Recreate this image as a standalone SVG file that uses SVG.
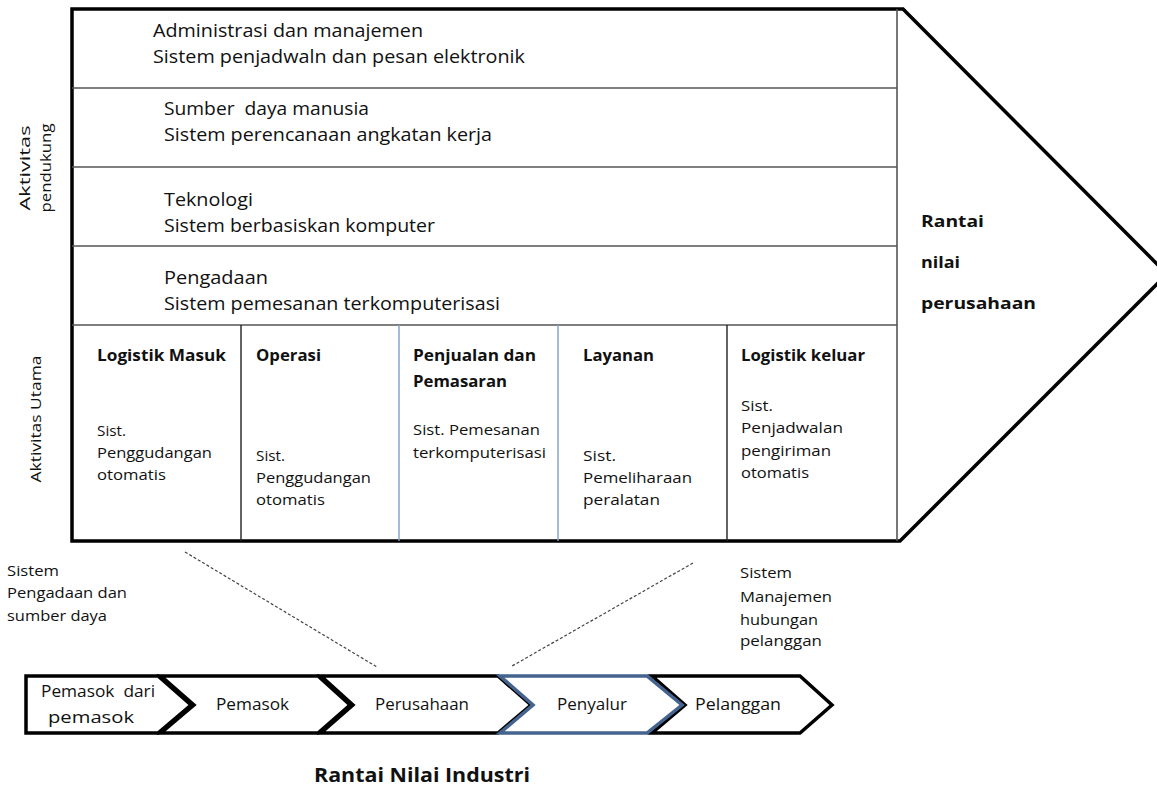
<svg xmlns="http://www.w3.org/2000/svg" width="1157" height="786" viewBox="0 0 1157 786">
<style>
.t{font-family:"Open Sans","Noto Sans","Liberation Sans",sans-serif;fill:#111}
.pre{white-space:pre}
.r{font-size:18px}
.s{font-size:15px}
.b{font-size:16px;font-weight:bold}
.c{font-size:16px}
.sep{stroke:#555;stroke-width:1.6;fill:none}
.dash{stroke:#444;stroke-width:1.2;stroke-dasharray:3 2;fill:none}
.chev{fill:#fff;stroke:#000;stroke-width:3.5;stroke-linejoin:miter}
.chev.blue{stroke:#44648f}
</style>
<rect width="1157" height="786" fill="#fff"/>
<g id="frame">
<polygon points="72,9 903,9 1167,274 900,541 72,541" fill="#fff" stroke="#000" stroke-width="3.5"/>
<line class="sep" x1="897" y1="9" x2="897" y2="541"/>
<line class="sep" x1="72" y1="88" x2="897" y2="88"/>
<line class="sep" x1="72" y1="167" x2="897" y2="167"/>
<line class="sep" x1="72" y1="246" x2="897" y2="246"/>
<line class="sep" x1="72" y1="325" x2="897" y2="325"/>
<line x1="241" y1="325" x2="241" y2="541" stroke="#222" stroke-width="1.4"/>
<line x1="399" y1="325" x2="399" y2="541" stroke="#7f9fc8" stroke-width="1.4"/>
<line x1="558" y1="325" x2="558" y2="541" stroke="#7f9fc8" stroke-width="1.4"/>
<line x1="727" y1="325" x2="727" y2="541" stroke="#222" stroke-width="1.4"/>
</g>
<g id="labels-side">
<text class="t s" transform="translate(30,168) rotate(-90)" text-anchor="middle" textLength="85" lengthAdjust="spacingAndGlyphs">Aktivitas</text>
<text class="t s" transform="translate(51,168) rotate(-90)" text-anchor="middle" textLength="89" lengthAdjust="spacingAndGlyphs">pendukung</text>
<text class="t s" transform="translate(41,419) rotate(-90)" text-anchor="middle" textLength="127" lengthAdjust="spacingAndGlyphs">Aktivitas Utama</text>
</g>
<g id="row-admin">
<text class="t r" x="153" y="37" textLength="270" lengthAdjust="spacingAndGlyphs">Administrasi dan manajemen</text>
<text class="t r" x="153" y="63" textLength="372" lengthAdjust="spacingAndGlyphs">Sistem penjadwaln dan pesan elektronik</text>
</g>
<g id="row-sdm">
<text class="t r pre" x="164" y="115" textLength="205" lengthAdjust="spacingAndGlyphs">Sumber  daya manusia</text>
<text class="t r" x="164" y="141" textLength="328" lengthAdjust="spacingAndGlyphs">Sistem perencanaan angkatan kerja</text>
</g>
<g id="row-tek">
<text class="t r" x="164" y="206" textLength="89" lengthAdjust="spacingAndGlyphs">Teknologi</text>
<text class="t r" x="164" y="232" textLength="271" lengthAdjust="spacingAndGlyphs">Sistem berbasiskan komputer</text>
</g>
<g id="row-pengadaan">
<text class="t r" x="164" y="284" textLength="104" lengthAdjust="spacingAndGlyphs">Pengadaan</text>
<text class="t r" x="164" y="310" textLength="336" lengthAdjust="spacingAndGlyphs">Sistem pemesanan terkomputerisasi</text>
</g>
<g id="col-logistik-masuk">
<text class="t b" x="97" y="361" textLength="129" lengthAdjust="spacingAndGlyphs">Logistik Masuk</text>
<text class="t s" x="97" y="436" textLength="29" lengthAdjust="spacingAndGlyphs">Sist.</text>
<text class="t s" x="97" y="458" textLength="115" lengthAdjust="spacingAndGlyphs">Penggudangan</text>
<text class="t s" x="97" y="480" textLength="69" lengthAdjust="spacingAndGlyphs">otomatis</text>
</g>
<g id="col-operasi">
<text class="t b" x="256" y="361" textLength="65" lengthAdjust="spacingAndGlyphs">Operasi</text>
<text class="t s" x="256" y="461" textLength="29" lengthAdjust="spacingAndGlyphs">Sist.</text>
<text class="t s" x="256" y="483" textLength="115" lengthAdjust="spacingAndGlyphs">Penggudangan</text>
<text class="t s" x="256" y="505" textLength="69" lengthAdjust="spacingAndGlyphs">otomatis</text>
</g>
<g id="col-penjualan">
<text class="t b" x="413" y="361" textLength="123" lengthAdjust="spacingAndGlyphs">Penjualan dan</text>
<text class="t b" x="413" y="387" textLength="94" lengthAdjust="spacingAndGlyphs">Pemasaran</text>
<text class="t s" x="413" y="435" textLength="127" lengthAdjust="spacingAndGlyphs">Sist. Pemesanan</text>
<text class="t s" x="413" y="458" textLength="133" lengthAdjust="spacingAndGlyphs">terkomputerisasi</text>
</g>
<g id="col-layanan">
<text class="t b" x="583" y="361" textLength="71" lengthAdjust="spacingAndGlyphs">Layanan</text>
<text class="t s" x="583" y="461" textLength="33" lengthAdjust="spacingAndGlyphs">Sist.</text>
<text class="t s" x="583" y="483" textLength="109" lengthAdjust="spacingAndGlyphs">Pemeliharaan</text>
<text class="t s" x="583" y="505" textLength="77" lengthAdjust="spacingAndGlyphs">peralatan</text>
</g>
<g id="col-logistik-keluar">
<text class="t b" x="741" y="361" textLength="124" lengthAdjust="spacingAndGlyphs">Logistik keluar</text>
<text class="t s" x="741" y="411" textLength="32" lengthAdjust="spacingAndGlyphs">Sist.</text>
<text class="t s" x="741" y="433" textLength="102" lengthAdjust="spacingAndGlyphs">Penjadwalan</text>
<text class="t s" x="741" y="456" textLength="90" lengthAdjust="spacingAndGlyphs">pengiriman</text>
<text class="t s" x="741" y="478" textLength="68" lengthAdjust="spacingAndGlyphs">otomatis</text>
</g>
<g id="rantai-nilai">
<text class="t b" x="921" y="227" textLength="63" lengthAdjust="spacingAndGlyphs">Rantai</text>
<text class="t b" x="921" y="268" textLength="39" lengthAdjust="spacingAndGlyphs">nilai</text>
<text class="t b" x="921" y="309" textLength="115" lengthAdjust="spacingAndGlyphs">perusahaan</text>
</g>
<g id="connectors">
<line class="dash" x1="185" y1="552" x2="377" y2="667"/>
<line class="dash" x1="693" y1="563" x2="512" y2="666"/>
</g>
<g id="note-pengadaan">
<text class="t s" x="7" y="576" textLength="52" lengthAdjust="spacingAndGlyphs">Sistem</text>
<text class="t s" x="7" y="598" textLength="120" lengthAdjust="spacingAndGlyphs">Pengadaan dan</text>
<text class="t s" x="7" y="621" textLength="100" lengthAdjust="spacingAndGlyphs">sumber daya</text>
</g>
<g id="note-crm">
<text class="t s" x="740" y="578" textLength="52" lengthAdjust="spacingAndGlyphs">Sistem</text>
<text class="t s" x="740" y="602" textLength="92" lengthAdjust="spacingAndGlyphs">Manajemen</text>
<text class="t s" x="740" y="625" textLength="78" lengthAdjust="spacingAndGlyphs">hubungan</text>
<text class="t s" x="740" y="646" textLength="82" lengthAdjust="spacingAndGlyphs">pelanggan</text>
</g>
<g id="chev-pemasok-dari-pemasok">
<polygon class="chev" points="26,676 158,676 191,705 158,733 26,733"/>
<text class="t c pre" x="41" y="697" textLength="114" lengthAdjust="spacingAndGlyphs">Pemasok  dari</text>
<text class="t c" x="48" y="723" textLength="86" lengthAdjust="spacingAndGlyphs">pemasok</text>
</g>
<g id="chev-pemasok">
<polygon class="chev" points="161,676 318,676 350,705 318,733 161,733 194,705"/>
<text class="t c" x="216" y="710" textLength="73" lengthAdjust="spacingAndGlyphs">Pemasok</text>
</g>
<g id="chev-perusahaan">
<polygon class="chev" points="321,676 498,676 531,705 498,733 321,733 353,705"/>
<text class="t c" x="375" y="710" textLength="94" lengthAdjust="spacingAndGlyphs">Perusahaan</text>
</g>
<g id="chev-pelanggan">
<polygon class="chev" points="652,676 800,676 832,705 800,733 652,733 685,705"/>
<text class="t c" x="695" y="710" textLength="86" lengthAdjust="spacingAndGlyphs">Pelanggan</text>
</g>
<g id="chev-penyalur">
<polygon class="chev blue" points="500,676 647,676 682,705 647,733 500,733 533,705"/>
<text class="t c" x="557" y="710" textLength="70" lengthAdjust="spacingAndGlyphs">Penyalur</text>
</g>
<g id="title">
<text class="t" x="314" y="782" font-size="19" font-weight="bold" textLength="216" lengthAdjust="spacingAndGlyphs">Rantai Nilai Industri</text>
</g>
</svg>
